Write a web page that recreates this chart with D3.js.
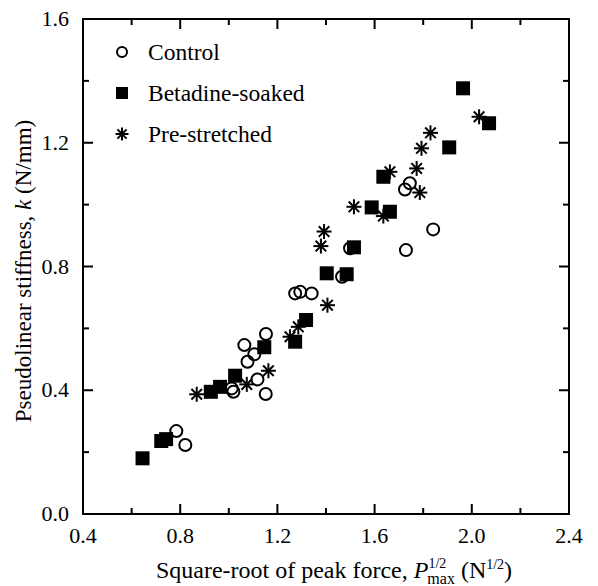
<!DOCTYPE html>
<html>
<head>
<meta charset="utf-8">
<script src="https://cdn.jsdelivr.net/npm/d3@7"></script>
<style>
  body { margin: 0; background: #fff; }
</style>
</head>
<body>
<svg id="chart" width="598" height="586"></svg>
<script>
  // data: [sqrt(Pmax), k]
  var controlPts = [
    [0.784, 0.268], [0.821, 0.223], [1.012, 0.406], [1.019, 0.395],
    [1.118, 0.435], [1.152, 0.388], [1.064, 0.546], [1.105, 0.516],
    [1.077, 0.492], [1.153, 0.582], [1.273, 0.713], [1.294, 0.718],
    [1.341, 0.713], [1.466, 0.767], [1.499, 0.859], [1.729, 0.853],
    [1.841, 0.920], [1.725, 1.049], [1.745, 1.069]
  ];
  var betadinePts = [
    [0.645, 0.180], [0.722, 0.236], [0.742, 0.242], [0.926, 0.395],
    [0.964, 0.411], [1.026, 0.447], [1.146, 0.539], [1.273, 0.557],
    [1.318, 0.627], [1.403, 0.778], [1.485, 0.775], [1.515, 0.862],
    [1.588, 0.991], [1.663, 0.977], [1.636, 1.090], [1.907, 1.185],
    [1.964, 1.376], [2.071, 1.263]
  ];
  var stretchedPts = [
    [0.868, 0.387], [1.074, 0.419], [1.163, 0.463], [1.252, 0.573],
    [1.286, 0.605], [1.406, 0.675], [1.379, 0.866], [1.392, 0.913],
    [1.515, 0.993], [1.636, 0.963], [1.663, 1.106], [1.773, 1.117],
    [1.786, 1.039], [1.793, 1.182], [1.830, 1.232], [2.030, 1.284]
  ];
  var seriesNames = ['Control', 'Betadine-soaked', 'Pre-stretched'];
  var xTicks = [0.4, 0.8, 1.2, 1.6, 2.0, 2.4];
  var yTicks = [0.0, 0.4, 0.8, 1.2, 1.6];

  var margin = {left: 83, right: 29, top: 19, bottom: 72};
  var svg = d3.select('#chart')
    .attr('font-family', '"Times New Roman", "Liberation Serif", Times, "DejaVu Serif", serif');
  var W = +svg.attr('width'), H = +svg.attr('height');
  var w = W - margin.left - margin.right, h = H - margin.top - margin.bottom;

  var x = d3.scaleLinear().domain([0.4, 2.4]).range([0, w]);
  var y = d3.scaleLinear().domain([0, 1.6]).range([h, 0]);

  var g = svg.append('g').attr('transform', 'translate(' + margin.left + ',' + margin.top + ')');

  var minorX = d3.range(0.4, 2.41, 0.2), minorY = d3.range(0, 1.61, 0.2);
  function isMajor(v, list) { return list.some(function(t) { return Math.abs(t - v) < 1e-6; }); }

  // inward ticks on all four sides
  var tickG = g.append('g').attr('stroke', '#000').attr('stroke-width', 2);
  minorX.forEach(function(v) {
    var len = isMajor(v, xTicks) ? 10 : 6;
    tickG.append('line').attr('x1', x(v)).attr('x2', x(v)).attr('y1', h).attr('y2', h - len);
    tickG.append('line').attr('x1', x(v)).attr('x2', x(v)).attr('y1', 0).attr('y2', len);
  });
  minorY.forEach(function(v) {
    var len = isMajor(v, yTicks) ? 10 : 6;
    tickG.append('line').attr('y1', y(v)).attr('y2', y(v)).attr('x1', 0).attr('x2', len);
    tickG.append('line').attr('y1', y(v)).attr('y2', y(v)).attr('x1', w).attr('x2', w - len);
  });

  g.append('rect').attr('width', w).attr('height', h)
    .attr('fill', 'none').attr('stroke', '#000').attr('stroke-width', 2);

  g.selectAll('text.xt').data(xTicks).enter().append('text')
    .attr('class', 'xt')
    .attr('x', function(d) { return x(d); })
    .attr('y', h + 29)
    .attr('text-anchor', 'middle')
    .style('font-size', '22px')
    .text(function(d) { return d3.format('.1f')(d); });

  g.selectAll('text.yt').data(yTicks).enter().append('text')
    .attr('class', 'yt')
    .attr('x', -14)
    .attr('y', function(d) { return y(d) + 7; })
    .attr('text-anchor', 'end')
    .style('font-size', '22px')
    .text(function(d) { return d3.format('.1f')(d); });

  // axis titles
  var xt = svg.append('text')
    .attr('x', 334)
    .attr('y', 578)
    .attr('text-anchor', 'middle')
    .style('font-size', '24px');
  xt.append('tspan').text('Square-root of peak force, ');
  xt.append('tspan').style('font-style', 'italic').text('P');
  xt.append('tspan').attr('dy', -10).style('font-size', '14px').text('1/2');
  xt.append('tspan').attr('dx', -19).attr('dy', 16).style('font-size', '16px').text('max');
  xt.append('tspan').attr('dy', -6).text(' (N');
  xt.append('tspan').attr('dy', -9).style('font-size', '14px').text('1/2');
  xt.append('tspan').attr('dy', 9).text(')');

  var yt = svg.append('text')
    .attr('transform', 'translate(31,271) rotate(-90)')
    .attr('text-anchor', 'middle')
    .style('font-size', '23px');
  yt.append('tspan').text('Pseudolinear stiffness, ');
  yt.append('tspan').style('font-style', 'italic').text('k');
  yt.append('tspan').text(' (N/mm)');

  // markers
  function drawCircle(sel) {
    sel.append('circle').attr('r', 6).attr('fill', 'none')
      .attr('stroke', '#000').attr('stroke-width', 2);
  }
  function drawSquare(sel) {
    sel.append('rect').attr('x', -7).attr('y', -7).attr('width', 14).attr('height', 14).attr('fill', '#000');
  }
  function drawStar(sel) {
    var r = 7.5, d = r * 0.707;
    [[0, -r, 0, r], [-r, 0, r, 0], [-d, -d, d, d], [-d, d, d, -d]].forEach(function(s) {
      sel.append('line').attr('x1', s[0]).attr('y1', s[1]).attr('x2', s[2]).attr('y2', s[3])
        .attr('stroke', '#000').attr('stroke-width', 2);
    });
  }

  var series = [
    {pts: controlPts, draw: drawCircle},
    {pts: betadinePts, draw: drawSquare},
    {pts: stretchedPts, draw: drawStar}
  ];

  series.forEach(function(s) {
    g.append('g').selectAll('g').data(s.pts).enter().append('g')
      .attr('transform', function(d) { return 'translate(' + x(d[0]) + ',' + y(d[1]) + ')'; })
      .each(function() { s.draw(d3.select(this)); });
  });

  // legend
  var legend = svg.append('g').attr('transform', 'translate(122,52)');
  seriesNames.forEach(function(name, i) {
    var row = legend.append('g').attr('transform', 'translate(0,' + (i * 41) + ')');
    var m = row.append('g');
    if (i === 0) m.append('circle').attr('r', 5).attr('fill', 'none').attr('stroke', '#000').attr('stroke-width', 2);
    if (i === 1) m.append('rect').attr('x', -6).attr('y', -6).attr('width', 12).attr('height', 12).attr('fill', '#000');
    if (i === 2) {
      var r = 6.5, dd = r * 0.707;
      [[0, -r, 0, r], [-r, 0, r, 0], [-dd, -dd, dd, dd], [-dd, dd, dd, -dd]].forEach(function(s) {
        m.append('line').attr('x1', s[0]).attr('y1', s[1]).attr('x2', s[2]).attr('y2', s[3])
          .attr('stroke', '#000').attr('stroke-width', 2);
      });
    }
    row.append('text').attr('x', 26).attr('y', 8).style('font-size', '23.5px').text(name);
  });
</script>
</body>
</html>
